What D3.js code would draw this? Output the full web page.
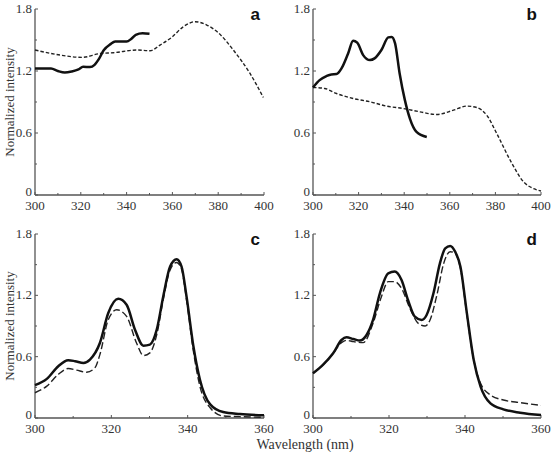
<!DOCTYPE html>
<html>
<head>
<meta charset="utf-8">
<script src="https://cdn.jsdelivr.net/npm/d3@7"></script>
<style>
    body { margin: 0; background: #fff; }
</style>
</head>
<body>
<div id="chart"></div>
<script>
// Spectra: [wavelength, normalized intensity]
const aSolid = [[300,1.225],[303,1.225],[307,1.225],[310,1.20],[313,1.185],[316,1.195],[319,1.215],[321,1.24],[324,1.238],[326,1.26],[328,1.32],[330,1.40],[333,1.46],[335,1.485],[340,1.485],[342,1.51],[344,1.55],[347,1.565],[350,1.56]];
const aDashed = [[300,1.403],[311,1.354],[320.6,1.332],[328.6,1.370],[334.2,1.377],[344.4,1.403],[350.2,1.396],[354.6,1.451],[359.7,1.526],[364.8,1.629],[369.9,1.677],[375,1.645],[380,1.571],[386.6,1.403],[393.9,1.176],[399.7,0.944]];

const bSolid = [[300,1.041],[302.9,1.112],[305.9,1.151],[308,1.167],[310.3,1.170],[312.5,1.225],[315.4,1.370],[317.6,1.493],[319.4,1.474],[322,1.354],[325,1.306],[327,1.322],[330,1.403],[333,1.525],[334.5,1.530],[336,1.467],[338,1.176],[340.3,0.918],[342.5,0.740],[345.4,0.611],[349.9,0.562]];
const bDashed = [[300,1.041],[305.1,1.031],[310.3,0.982],[317.6,0.934],[325,0.902],[332.3,0.860],[339.6,0.837],[346.9,0.805],[354.3,0.779],[361.6,0.821],[367.4,0.860],[371.8,0.847],[376.2,0.772],[380.6,0.595],[386.5,0.336],[392.4,0.126],[396.8,0.061],[400,0.039]];

const cSolid = [[300,0.322],[303.1,0.383],[306.1,0.507],[308.7,0.565],[310.5,0.556],[312.7,0.539],[314.4,0.572],[317,0.734],[319.2,1.027],[321.8,1.166],[324,1.108],[326.2,0.864],[328.4,0.708],[330.1,0.718],[331.9,0.864],[333.6,1.189],[335.4,1.481],[337.1,1.553],[338.4,1.481],[339.7,1.189],[341.5,0.702],[343.2,0.377],[345.9,0.133],[349.3,0.058],[353.7,0.039],[360,0.026]];
const cDashed = [[300,0.247],[303.1,0.312],[306.1,0.426],[308.7,0.484],[310.9,0.468],[313.5,0.448],[315.7,0.491],[317,0.62],[319.2,0.962],[321.4,1.059],[324,0.994],[326.6,0.734],[328.4,0.611],[330.1,0.637],[331.9,0.815],[333.6,1.157],[335.4,1.449],[337.1,1.521],[338.4,1.456],[339.7,1.157],[341.5,0.653],[343.2,0.312],[345.9,0.10],[349.3,0.02],[353.7,0.013],[360,0.006]];

const dSolid = [[300,0.437],[302.6,0.519],[305.3,0.633],[307.5,0.763],[308.8,0.789],[310.6,0.773],[312.3,0.757],[314.1,0.812],[315.8,0.959],[317.6,1.22],[319.8,1.415],[321.5,1.432],[323.3,1.35],[325,1.154],[326.8,0.991],[328.6,0.959],[329.9,1.008],[331.7,1.22],[333.4,1.513],[334.8,1.66],[336.1,1.683],[337.4,1.627],[338.8,1.48],[340.5,1.024],[342.3,0.567],[344.1,0.307],[346.7,0.143],[350.1,0.085],[354.5,0.052],[360,0.029]];
const dDashed = [[300,0.437],[302.6,0.519],[305.3,0.630],[307.5,0.737],[308.8,0.760],[310.6,0.747],[313.2,0.737],[315.8,0.926],[318,1.187],[319.8,1.334],[321.5,1.334],[323.3,1.268],[325.5,1.073],[327.7,0.926],[329.5,0.9],[330.8,0.959],[332.6,1.203],[334.4,1.513],[336.1,1.627],[337.4,1.611],[338.8,1.464],[340.5,1.008],[342.3,0.567],[344.1,0.339],[346.7,0.225],[350.1,0.176],[354.5,0.15],[360,0.124]];

const yTicks = [0, 0.6, 1.2, 1.8];
const xTicksWide = [300, 320, 340, 360, 380, 400];
const xTicksNarrow = [300, 320, 340, 360];

const panels = [
    { letter: 'a', box: [35, 264, 9, 195],   xDomain: [300, 400], xTicks: xTicksWide,   solid: aSolid, dashed: aDashed, dash: '3.5,2', yLabel: true },
    { letter: 'b', box: [313, 541, 9, 195],  xDomain: [300, 400], xTicks: xTicksWide,   solid: bSolid, dashed: bDashed, dash: '3.5,2', yLabel: false },
    { letter: 'c', box: [35, 264, 234, 418], xDomain: [300, 360], xTicks: xTicksNarrow, solid: cSolid, dashed: cDashed, dash: '7,3', yLabel: true },
    { letter: 'd', box: [313, 541, 234, 418], xDomain: [300, 360], xTicks: xTicksNarrow, solid: dSolid, dashed: dDashed, dash: '7,3', yLabel: false },
];

const serif = '"Liberation Serif", "Times New Roman", "DejaVu Serif", serif';
const width = 552, height = 452;
const svg = d3.select('#chart').append('svg')
    .attr('width', width)
    .attr('height', height);

const axisColor = '#555';
const textColor = '#333';

panels.forEach(p => {
    const [x0, x1, yTop, yBot] = p.box;
    const x = d3.scaleLinear().domain(p.xDomain).range([x0, x1]);
    const y = d3.scaleLinear().domain([0, 1.8]).range([yBot, yTop]);
    const g = svg.append('g');

    // minor ticks (every 10 nm, every 0.3)
    const xMinor = d3.range(p.xDomain[0], p.xDomain[1] + 1, 10);
    const yMinor = d3.range(0, 1.81, 0.3);

    g.selectAll('line.xminor').data(xMinor).enter().append('line')
        .attr('x1', d => x(d)).attr('x2', d => x(d))
        .attr('y1', yBot).attr('y2', d => yBot - (p.xTicks.includes(d) ? 3 : 2))
        .attr('stroke', axisColor).attr('stroke-width', 1);
    g.selectAll('line.yminor').data(yMinor).enter().append('line')
        .attr('x1', x0).attr('x2', (d, i) => x0 + (i % 2 === 0 ? 3 : 2))
        .attr('y1', d => y(d)).attr('y2', d => y(d))
        .attr('stroke', axisColor).attr('stroke-width', 1);

    // axes lines
    g.append('line').attr('x1', x0).attr('x2', x1).attr('y1', yBot).attr('y2', yBot)
        .attr('stroke', axisColor).attr('stroke-width', 1.3);
    g.append('line').attr('x1', x0).attr('x2', x0).attr('y1', yTop).attr('y2', yBot)
        .attr('stroke', axisColor).attr('stroke-width', 1.3);

    // tick labels
    g.selectAll('text.xt').data(p.xTicks).enter().append('text')
        .attr('x', d => x(d)).attr('y', yBot + 15)
        .attr('text-anchor', 'middle')
        .attr('font-family', serif)
        .attr('font-size', 13)
        .attr('fill', textColor)
        .text(d => d);
    g.selectAll('text.yt').data(yTicks).enter().append('text')
        .attr('x', x0 - 3).attr('y', d => y(d) + (d === 0 ? 1 : 4))
        .attr('text-anchor', 'end')
        .attr('font-family', serif)
        .attr('font-size', 13)
        .attr('fill', textColor)
        .text(d => d === 0 ? '0' : d.toFixed(1));

    const line = d3.line()
        .x(d => x(d[0]))
        .y(d => y(d[1]))
        .curve(d3.curveMonotoneX);

    g.append('path').datum(p.dashed)
        .attr('d', line)
        .attr('fill', 'none')
        .attr('stroke', '#222')
        .attr('stroke-width', 1.4)
        .attr('stroke-dasharray', p.dash);
    g.append('path').datum(p.solid)
        .attr('d', line)
        .attr('fill', 'none')
        .attr('stroke', '#111')
        .attr('stroke-width', 2.5);

    g.append('text')
        .attr('x', x1 - 4).attr('y', yTop + 11)
        .attr('text-anchor', 'end')
        .attr('font-family', '"Liberation Sans", Arial, sans-serif')
        .attr('font-weight', 'bold')
        .attr('font-size', 17)
        .attr('fill', '#111')
        .text(p.letter);

    if (p.yLabel) {
        g.append('text')
            .attr('transform', `translate(14, ${(yTop + yBot) / 2}) rotate(-90)`)
            .attr('text-anchor', 'middle')
            .attr('font-family', serif)
            .attr('font-size', 13)
            .attr('fill', textColor)
            .text('Normalized intensity');
    }
});

svg.append('text')
    .attr('x', 305).attr('y', 449)
    .attr('text-anchor', 'middle')
    .attr('font-family', serif)
    .attr('font-size', 14)
    .attr('fill', textColor)
    .text('Wavelength (nm)');
</script>
</body>
</html>
